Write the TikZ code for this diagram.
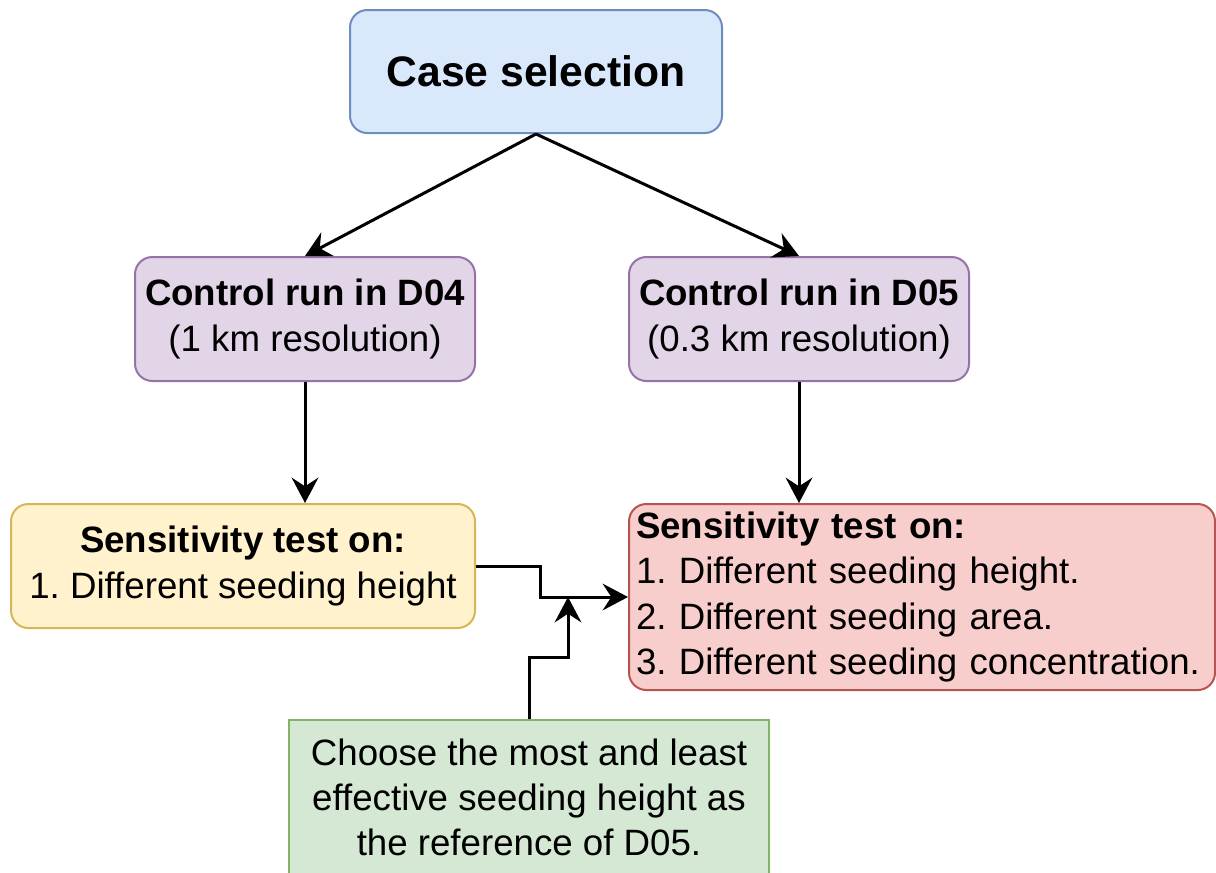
\documentclass[tikz,border=0pt]{standalone}
\usepackage{fontspec}
\setmainfont{Liberation Sans}
\usetikzlibrary{arrows.meta,calc}
\definecolor{bfill}{HTML}{DAE8FC}\definecolor{bline}{HTML}{6C8EBF}
\definecolor{pfill}{HTML}{E1D5E7}\definecolor{pline}{HTML}{9673A6}
\definecolor{yfill}{HTML}{FFF2CC}\definecolor{yline}{HTML}{D6B656}
\definecolor{rfill}{HTML}{F8CECC}\definecolor{rline}{HTML}{B85450}
\definecolor{gfill}{HTML}{D5E8D4}\definecolor{gline}{HTML}{82B366}
\frenchspacing
\tikzset{
  box/.style={draw, line width=1.5pt, rounded corners=13pt, align=center, inner sep=0pt,
    font=\fontsize{27.5pt}{34pt}\selectfont\frenchspacing},
  arr/.style={line width=2.25pt, line join=miter, -{Stealth[length=19pt,width=20pt,inset=6.5pt]}},
}
\begin{document}
\begin{tikzpicture}[x=0.75pt,y=-0.75pt]
\useasboundingbox (0,0) rectangle (1216,872);
\clip (0,0) rectangle (1216,872);
\node[box, fill=bfill, draw=bline, minimum width=279pt, minimum height=92.25pt,
  font=\fontsize{32pt}{38pt}\selectfont\bfseries] (case) at (536,71.5) {Case selection};
\node[box, fill=pfill, draw=pline, minimum width=255pt, minimum height=93pt] (d04) at (305,319)
  {\textbf{Control run in D04}\\(1 km resolution)};
\node[box, fill=pfill, draw=pline, minimum width=255pt, minimum height=93pt] (d05) at (799,319)
  {\textbf{Control run in D05}\\(0.3 km resolution)};
\node[box, fill=yfill, draw=yline, minimum width=348pt, minimum height=93pt] (yel) at (243,566)
  {\textbf{Sensitivity test on:}\\1. Different seeding height};
\node[box, fill=rfill, draw=rline, minimum height=139.5pt, text width=429pt, inner xsep=5.25pt,
  align=left] (red) at (922,597)
  {\textbf{Sensitivity test on:}\\1. Different seeding height.\\2. Different seeding area.\\3. Different seeding concentration.};
\node[box, rounded corners=0pt, fill=gfill, draw=gline, minimum width=360pt, minimum height=116pt] (grn) at (529,797.5)
  {Choose the most and least\\effective seeding height as\\the reference of D05.};
\coordinate (j) at (568,597);
\draw[arr] (case.south) -- (d04.north);
\draw[arr] (case.south) -- (d05.north);
\draw[arr] (d04.south) -- (d04.south |- yel.north);
\draw[arr] (d05.south) -- (d05.south |- red.north);
\draw[arr] (yel.east) -- ++(64,0) |- (red.west);
\draw[arr] (grn.north) -- ++(0,-62) -| (j);
\end{tikzpicture}
\end{document}
